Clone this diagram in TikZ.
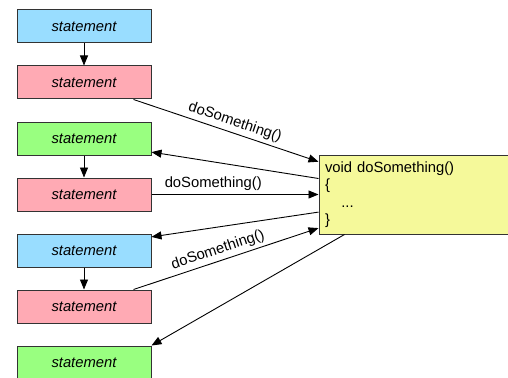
\documentclass[tikz,border=0pt]{standalone}
\usepackage{fontspec}
\setmainfont{Liberation Sans}
\usepackage{tikz}
\usetikzlibrary{arrows.meta, positioning, calc}
\definecolor{stmt-blue}{HTML}{99DDFF}
\definecolor{stmt-red}{HTML}{FFAAB4}
\definecolor{stmt-green}{HTML}{99FF80}
\definecolor{func-yellow}{HTML}{F5F99A}

\begin{document}
\begin{tikzpicture}[x=1pt, y=-1pt,
    stmt/.style={draw=black!80, line width=1pt, minimum width=134pt, minimum height=33pt, inner sep=0pt, font=\fontsize{14.8pt}{17.5pt}\selectfont\itshape},
    sblue/.style={fill=stmt-blue},
    sred/.style={fill=stmt-red},
    sgreen/.style={fill=stmt-green},
    func/.style={draw=black!80, fill=func-yellow, line width=1pt, text width=177pt, minimum height=79pt, inner xsep=6pt, align=left, font=\fontsize{14.8pt}{17.5pt}\selectfont},
    call/.style={-{Triangle[length=10pt, width=8pt]}, line width=0.9pt},
    lbl/.style={font=\fontsize{14.8pt}{17.5pt}\selectfont}
]
    \useasboundingbox (0,0) rectangle (508,377);

    % Statement column
    \node (s1) [stmt, sblue] at (84, 26.5) {statement};
    \node (s2) [stmt, sred, below=22pt of s1] {statement};
    \node (s3) [stmt, sgreen, below=22pt of s2] {statement};
    \node (s4) [stmt, sred, below=22pt of s3] {statement};
    \node (s5) [stmt, sblue, below=22pt of s4] {statement};
    \node (s6) [stmt, sred, below=22pt of s5] {statement};
    \node (s7) [stmt, sgreen, below=22pt of s6] {statement};

    % Called function
    \node (func) [func] at (413.5, 194.5) {void doSomething()\\ \{\\ \hspace*{1.1em}...\\ \}};

    % Sequence
    \draw[call] (s1) -- (s2);
    \draw[call] (s3) -- (s4);
    \draw[call] (s5) -- (s6);

    % Calls and returns
    \draw[call] ($(s2.south east)+(-18,0)$) -- ($(func.north west)!0.09!(func.south west)$)
        node[lbl, sloped, above, pos=0.53] {doSomething()};
    \draw[call] ($(func.north west)!0.30!(func.south west)$) -- ($(s3.north east)!0.9!(s3.south east)$);

    \draw[call] (s4.east) -- (func.west)
        node[lbl, above, pos=0.37] {doSomething()};
    \draw[call] ($(func.north west)!0.72!(func.south west)$) -- ($(s5.north east)!0.1!(s5.south east)$);

    \draw[call] ($(s6.north east)+(-18,0)$) -- ($(func.north west)!0.92!(func.south west)$)
        node[lbl, sloped, above, pos=0.475] {doSomething()};
    \draw[call] ($(func.south west)+(26,0)$) -- (s7.north east);
\end{tikzpicture}
\end{document}
